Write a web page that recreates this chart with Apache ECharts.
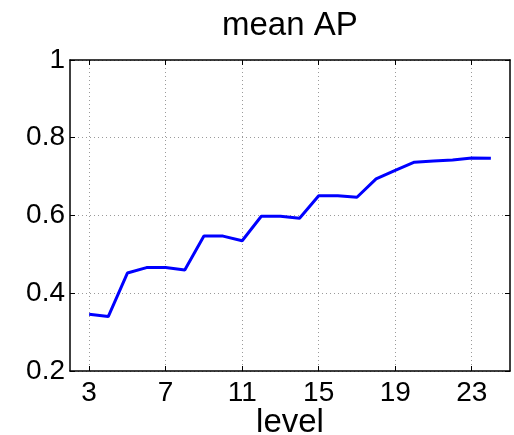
<!DOCTYPE html>
<html>
<head>
<meta charset="utf-8">
<script src="https://cdn.jsdelivr.net/npm/echarts@6/dist/echarts.min.js"></script>
<style>
html,body{margin:0;padding:0;background:#fff;}
#chart{width:514px;height:435px;}
</style>
</head>
<body>
<div id="chart"></div>
<script>
// axis range categories (x from 2 to 25)
var axisLevels = [2,3,4,5,6,7,8,9,10,11,12,13,14,15,16,17,18,19,20,21,22,23,24,25];
var tickLevels = [3,7,11,15,19,23];
var levels = [3,4,5,6,7,8,9,10,11,12,13,14,15,16,17,18,19,20,21,22,23,24];
var meanAP = [0.346,0.340,0.452,0.466,0.466,0.460,0.547,0.547,0.535,0.598,0.598,0.593,0.651,0.651,0.647,0.694,0.716,0.737,0.740,0.743,0.748,0.747];
var yTicks = [0.2,0.4,0.6,0.8,1];

var cats = axisLevels.map(String);
var seriesData = axisLevels.map(function(l){
  var i = levels.indexOf(l);
  return i >= 0 ? meanAP[i] : null;
});
function isTick(idx, val){ return tickLevels.indexOf(Number(val)) >= 0; }

var font = 'Liberation Sans, Arial, Helvetica, sans-serif';
var chart = echarts.init(document.getElementById('chart'), null, {renderer:'canvas'});
var gridLine = {show:true, interval:isTick, lineStyle:{color:'#9a9a9a', type:[1,3], width:1}};
chart.setOption({
  animation:false,
  backgroundColor:'#fff',
  title:{
    text:'mean AP', left:222, top:9, padding:0,
    textStyle:{fontFamily:font, fontSize:33, fontWeight:'normal', color:'#000'}
  },
  grid:{left:70, right:4, top:60, bottom:64, containLabel:false, outerBoundsMode:'none'},
  xAxis:[{
    type:'category', data:cats, boundaryGap:false, position:'bottom',
    name:'level', nameLocation:'middle', nameGap:35, nameMoveOverlap:false,
    nameTextStyle:{fontFamily:font, fontSize:33, color:'#000'},
    axisLine:{show:true, onZero:false, lineStyle:{color:'#000', width:1.5}},
    axisTick:{show:true, inside:true, length:5, interval:isTick, lineStyle:{color:'#000'}},
    axisLabel:{show:true, interval:isTick, margin:8, fontFamily:font, fontSize:28, color:'#000'},
    splitLine:gridLine
  },{
    type:'category', data:cats, boundaryGap:false, position:'top',
    axisLine:{show:true, onZero:false, lineStyle:{color:'#000', width:1.5}},
    axisTick:{show:true, inside:true, length:5, interval:isTick, lineStyle:{color:'#000'}},
    axisLabel:{show:false}, splitLine:{show:false}
  }],
  yAxis:[{
    type:'value', min:yTicks[0], max:yTicks[yTicks.length-1], interval:0.2, position:'left',
    axisLine:{show:true, onZero:false, lineStyle:{color:'#000', width:1.5}},
    axisTick:{show:true, inside:true, length:5, lineStyle:{color:'#000'}},
    axisLabel:{show:true, margin:5, fontFamily:font, fontSize:28, color:'#000',
      formatter:function(v){ return String(Math.round(v*10)/10); }},
    splitLine:{show:true, lineStyle:{color:'#9a9a9a', type:[1,3], width:1}}
  },{
    type:'value', min:yTicks[0], max:yTicks[yTicks.length-1], interval:0.2, position:'right',
    axisLine:{show:true, onZero:false, lineStyle:{color:'#000', width:1.5}},
    axisTick:{show:true, inside:true, length:5, lineStyle:{color:'#000'}},
    axisLabel:{show:false}, splitLine:{show:false}
  }],
  series:[{
    type:'line', xAxisIndex:0, yAxisIndex:0, data:seriesData,
    showSymbol:false, symbol:'none', connectNulls:false,
    lineStyle:{color:'#0000ff', width:3}
  }]
});
</script>
</body>
</html>
